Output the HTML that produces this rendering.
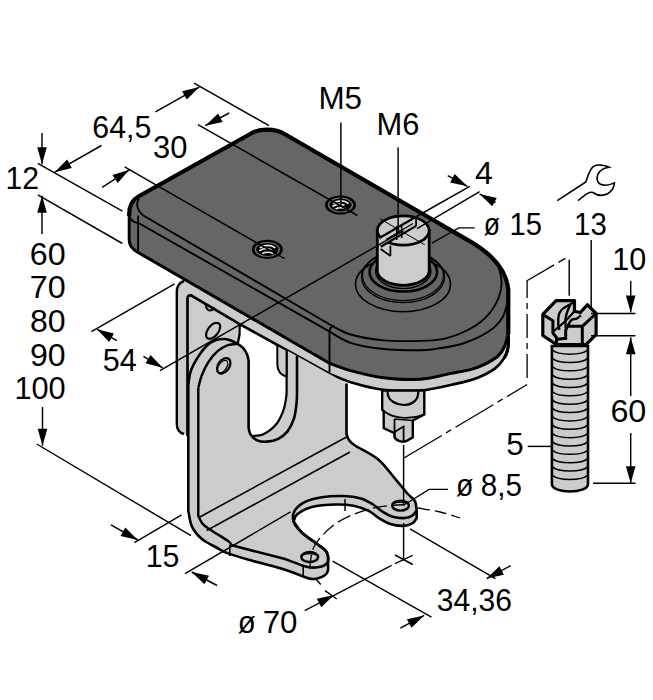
<!DOCTYPE html>
<html><head><meta charset="utf-8"><style>
html,body{margin:0;padding:0;background:#fff;}
svg{display:block;}
text{font-family:"Liberation Sans",sans-serif;fill:#000;}
</style></head><body>
<svg width="653" height="700" viewBox="0 0 653 700">
<rect width="653" height="700" fill="#fff"/>
<path d="M 187.5 298.0 L 191.0 295.3 L 239.3 323.9 L 239.3 440.0 L 187.5 440.0 Z" fill="#cccccc" />
<path d="M 176.8 424 L 176.8 292 Q 176.8 283 184 280 L 330 363 L 508.6 330 L 508.6 336 C 508.6 337.7 509.0 342.4 508.3 346.0 C 507.6 349.6 506.6 354.1 504.3 357.9 C 502.1 361.7 499.3 365.3 494.8 368.7 C 490.3 372.1 483.4 375.5 477.1 378.0 C 470.8 380.5 466.3 381.5 456.8 383.6 C 447.3 385.7 432.6 389.6 420.0 390.6 C 407.4 391.6 392.9 390.9 381.3 389.5 C 369.7 388.1 359.3 384.8 350.6 382.2 C 341.9 379.6 332.9 375.2 329.3 373.8 L 239.3 323.9 L 191 295.8 Q 187.5 295.5 187.5 298.5 L 187.5 434 L 184 434 Q 176.8 434 176.8 424 Z" fill="#cccccc" />
<path d="M 184 281 Q 176.8 283.5 176.8 292 L 176.8 424 Q 176.8 432 184 434" fill="none" stroke="#000" stroke-width="2.4" />
<path d="M 187.5 436 L 187.5 298.5 Q 187.5 295 191 295.3 L 239.3 323.9 L 329.3 373.8 C 332.9 375.2 341.9 379.6 350.6 382.2 C 359.3 384.8 369.7 388.1 381.3 389.5 C 392.9 390.9 407.4 391.6 420.0 390.6 C 432.6 389.6 447.3 385.7 456.8 383.6 C 466.3 381.5 470.8 380.5 477.1 378.0 C 483.4 375.5 490.3 372.1 494.8 368.7 C 499.3 365.3 502.1 361.7 504.3 357.9 C 506.6 354.1 507.6 349.6 508.3 346.0 C 509.0 342.4 508.6 337.7 508.6 336.0" fill="none" stroke="#000" stroke-width="2.7" />
<path d="M 239.8 324.2 C 240.3 332 239.5 338 237.5 345" fill="none" stroke="#000" stroke-width="2.2" />
<ellipse cx="213.1" cy="330.8" rx="5.2" ry="9.3" fill="#ccc" stroke="#000" stroke-width="2.2" transform="rotate(38 213.1 330.8)"/>
<path d="M 205.6 303 C 205.8 307.5 207.5 310.5 210 310.5 C 212 310.5 213.5 309.5 214 307" fill="none" stroke="#000" stroke-width="2" />
<path d="M 188.3 512 L 188.3 385 C 188.7 382.7 189.1 375.9 190.7 371.3 C 192.2 366.7 194.8 362.0 197.6 357.6 C 200.3 353.2 204.2 348.1 207.2 345.2 C 210.2 342.3 212.5 341.3 215.5 340.3 C 218.5 339.3 222.3 338.9 225.1 339.0 C 227.8 339.1 229.9 340.2 232.0 341.0 C 234.1 341.8 235.7 342.7 237.5 343.8 C 239.3 344.9 241.4 346.1 243.0 347.9 C 244.6 349.7 246.3 352.6 247.2 354.8 C 248.1 357.0 248.4 360.0 248.6 361.0 L 248.6 427.7 C 248.9 428.8 248.9 432.0 250.4 434.2 C 251.9 436.4 255.0 439.4 257.8 440.6 C 260.6 441.8 263.7 441.9 267.1 441.6 C 270.5 441.3 274.9 440.5 278.3 438.8 C 281.7 437.1 284.9 434.8 287.5 431.4 C 290.1 428.0 292.5 423.0 294.0 418.4 C 295.5 413.8 296.0 407.4 296.5 403.5 C 297.0 399.6 296.9 396.4 297.0 395.0 L 297 355.9 L 346.5 383.4 L 346.5 434 C 346.9 435.0 347.6 438.1 349.0 440.0 C 350.4 441.9 350.2 442.3 355.0 445.5 C 359.8 448.7 371.3 453.6 378.0 459.2 C 384.7 464.8 390.3 473.1 395.2 478.8 C 400.1 484.5 404.1 489.8 407.4 493.5 C 410.7 497.2 413.2 498.0 414.8 500.9 C 416.4 503.8 416.4 509.1 416.7 510.7 L 416.7 518 C 416.0 518.9 414.7 522.1 412.3 523.4 C 409.9 524.7 406.2 525.8 402.5 525.9 C 398.8 526.0 394.0 525.2 390.3 524.1 C 386.6 523.0 384.2 521.4 380.5 519.2 C 376.8 517.0 372.7 512.9 368.2 510.7 C 363.7 508.5 358.8 506.8 353.5 505.8 C 348.2 504.8 343.3 504.3 336.4 504.5 C 329.5 504.7 318.4 505.4 311.9 507.0 C 305.4 508.6 300.2 511.9 297.2 514.3 C 294.1 516.7 294.2 520.3 293.6 521.5 C 295.0 523.4 298.1 529.0 302.0 532.7 C 305.9 536.4 312.9 540.7 316.8 543.7 C 320.7 546.7 323.6 548.5 325.5 550.5 C 327.4 552.5 327.5 554.0 327.9 556.0 C 328.3 558.0 327.9 561.2 327.9 562.2 L 327.9 562.2 C 327.9 563.6 328.5 568.6 327.9 570.8 C 327.3 573.0 326.3 574.2 324.5 575.5 C 322.7 576.8 319.3 577.9 317.0 578.5 C 314.7 579.1 313.2 579.3 310.7 578.9 C 308.2 578.5 303.6 576.6 302.2 576.1 C 299.3 575.0 293.2 572.2 285.0 569.7 C 276.8 567.2 262.3 563.6 252.9 560.9 C 243.5 558.2 234.7 555.8 228.6 553.6 C 222.5 551.4 220.8 549.9 216.4 547.5 C 212.0 545.1 206.0 542.4 201.9 539.0 C 197.8 535.6 194.3 531.4 192.1 526.9 C 189.9 522.4 189.1 514.5 188.5 512.0 Z" fill="#cccccc" />
<path d="M 250.4 434.2 C 251.6 435.3 255.0 439.4 257.8 440.6 C 260.6 441.8 263.7 441.9 267.1 441.6 C 270.5 441.3 274.9 440.5 278.3 438.8 C 281.7 437.1 284.9 434.8 287.5 431.4 C 290.1 428.0 292.5 423.0 294.0 418.4 C 295.5 413.8 296.0 407.4 296.5 403.5 C 297.0 399.6 296.9 396.4 297.0 395.0 L 297 355.9 L 286.6 350.2 L 286.6 394.2 C 286.1 396.7 285.5 404.1 283.8 409.1 C 282.1 414.1 279.8 419.8 276.4 424.0 C 273.0 428.2 267.4 432.2 263.4 434.2 C 259.4 436.2 254.2 435.7 252.3 436.0 Z" fill="#cccccc" />
<path d="M 188.3 512 L 188.3 385 C 188.7 382.7 189.1 375.9 190.7 371.3 C 192.2 366.7 194.8 362.0 197.6 357.6 C 200.3 353.2 204.2 348.1 207.2 345.2 C 210.2 342.3 212.5 341.3 215.5 340.3 C 218.5 339.3 222.3 338.9 225.1 339.0 C 227.8 339.1 229.9 340.2 232.0 341.0 C 234.1 341.8 235.7 342.7 237.5 343.8 C 239.3 344.9 241.4 346.1 243.0 347.9 C 244.6 349.7 246.3 352.6 247.2 354.8 C 248.1 357.0 248.4 360.0 248.6 361.0 L 248.6 427.7 C 248.9 428.8 248.9 432.0 250.4 434.2 C 251.9 436.4 255.0 439.4 257.8 440.6 C 260.6 441.8 263.7 441.9 267.1 441.6 C 270.5 441.3 274.9 440.5 278.3 438.8 C 281.7 437.1 284.9 434.8 287.5 431.4 C 290.1 428.0 292.5 423.0 294.0 418.4 C 295.5 413.8 296.0 407.4 296.5 403.5 C 297.0 399.6 296.9 396.4 297.0 395.0 L 297 355.9" fill="none" stroke="#000" stroke-width="2.6" />
<path d="M 346.5 383.4 L 346.5 434 C 346.9 435.0 347.6 438.1 349.0 440.0 C 350.4 441.9 350.2 442.3 355.0 445.5 C 359.8 448.7 371.3 453.6 378.0 459.2 C 384.7 464.8 390.3 473.1 395.2 478.8 C 400.1 484.5 404.1 489.8 407.4 493.5 C 410.7 497.2 413.2 498.0 414.8 500.9 C 416.4 503.8 416.4 509.1 416.7 510.7 L 416.7 518 C 416.0 518.9 414.7 522.1 412.3 523.4 C 409.9 524.7 406.2 525.8 402.5 525.9 C 398.8 526.0 394.0 525.2 390.3 524.1 C 386.6 523.0 384.2 521.4 380.5 519.2 C 376.8 517.0 372.7 512.9 368.2 510.7 C 363.7 508.5 358.8 506.8 353.5 505.8 C 348.2 504.8 343.3 504.3 336.4 504.5 C 329.5 504.7 318.4 505.4 311.9 507.0 C 305.4 508.6 300.2 511.9 297.2 514.3 C 294.1 516.7 294.2 520.3 293.6 521.5 C 295.0 523.4 298.1 529.0 302.0 532.7 C 305.9 536.4 312.9 540.7 316.8 543.7 C 320.7 546.7 323.6 548.5 325.5 550.5 C 327.4 552.5 327.5 554.0 327.9 556.0 C 328.3 558.0 327.9 561.2 327.9 562.2 L 327.9 562.2 C 327.9 563.6 328.5 568.6 327.9 570.8 C 327.3 573.0 326.3 574.2 324.5 575.5 C 322.7 576.8 319.3 577.9 317.0 578.5 C 314.7 579.1 313.2 579.3 310.7 578.9 C 308.2 578.5 303.6 576.6 302.2 576.1 C 299.3 575.0 293.2 572.2 285.0 569.7 C 276.8 567.2 262.3 563.6 252.9 560.9 C 243.5 558.2 234.7 555.8 228.6 553.6 C 222.5 551.4 220.8 549.9 216.4 547.5 C 212.0 545.1 206.0 542.4 201.9 539.0 C 197.8 535.6 194.3 531.4 192.1 526.9 C 189.9 522.4 189.1 514.5 188.5 512.0" fill="none" stroke="#000" stroke-width="2.6" />
<path d="M 252.3 436.0 C 254.2 435.7 259.4 436.2 263.4 434.2 C 267.4 432.2 273.0 428.2 276.4 424.0 C 279.8 419.8 282.1 414.1 283.8 409.1 C 285.5 404.1 286.1 396.7 286.6 394.2 L 286.6 350.2" fill="none" stroke="#000" stroke-width="2.2" />
<path d="M 277.3 345.0 L 277.3 364 C 277.3 371 281 375 286.6 376.5 L 286.6 350.2 Z" fill="#cccccc" stroke="#000" stroke-width="2" />
<path d="M 198.3 387.9 L 198.3 515.9 C 199.1 517.3 200.9 522.0 203.1 524.4 C 205.3 526.8 207.3 527.7 211.6 530.5 C 215.8 533.3 225.4 539.0 228.6 541.4 C 231.8 543.8 230.6 544.5 231.0 545.1" fill="none" stroke="#000" stroke-width="2.4" />
<path d="M 198.3 387.9 C 198.9 385.8 200.0 379.9 201.7 375.5 C 203.4 371.1 205.8 365.8 208.6 361.7 C 211.3 357.6 215.0 353.4 218.2 350.7 C 221.4 347.9 224.7 346.3 227.9 345.2 C 231.1 344.1 235.9 344.0 237.5 343.8" fill="none" stroke="#000" stroke-width="2.4" />
<ellipse cx="223.7" cy="365.8" rx="5.6" ry="8.6" fill="#ccc" stroke="#000" stroke-width="2.2" transform="rotate(35 223.7 365.8)"/>
<ellipse cx="222.6" cy="366.6" rx="4" ry="7" fill="none" stroke="#000" stroke-width="1.2" transform="rotate(35 222.6 366.6)"/>
<line x1="199.4" y1="517.2" x2="346.5" y2="437.0" stroke="#000" stroke-width="1.6" />
<line x1="206.7" y1="530.5" x2="350.0" y2="452.0" stroke="#000" stroke-width="1.6" />
<line x1="229.8" y1="545.0" x2="229.8" y2="556.0" stroke="#000" stroke-width="1.6" />
<path d="M 416.7 510.7 C 416.0 511.5 414.2 514.4 412.3 515.6 C 410.4 516.8 408.3 517.8 405.0 518.0 C 401.7 518.2 396.4 517.8 392.7 516.8 C 389.0 515.8 386.2 513.9 382.9 511.9 C 379.6 509.8 376.8 506.8 373.1 504.5 C 369.4 502.2 365.8 499.8 360.9 498.4 C 356.0 497.0 350.2 496.2 343.7 496.0 C 337.2 495.8 328.2 496.2 321.7 497.2 C 315.2 498.2 309.0 499.9 304.5 502.1 C 300.0 504.4 296.5 507.5 294.7 510.7 C 292.9 513.9 292.4 517.8 293.6 521.5 C 294.8 525.2 298.1 529.0 302.0 532.7 C 305.9 536.4 312.9 540.7 316.8 543.7 C 320.7 546.7 323.6 548.5 325.5 550.5 C 327.4 552.5 327.5 554.0 327.9 556.0 C 328.3 558.0 329.0 560.5 327.9 562.2 C 326.8 564.0 324.3 565.6 321.4 566.5 C 318.5 567.4 313.9 567.7 310.7 567.5 C 307.5 567.3 306.5 566.8 302.2 565.4 C 297.9 564.0 287.9 560.1 285.0 559.0 L 231 545.1" fill="none" stroke="#000" stroke-width="2.6" />
<line x1="303.2" y1="566.0" x2="303.2" y2="576.0" stroke="#000" stroke-width="1.6" />
<ellipse cx="400.5" cy="505.6" rx="8.4" ry="5" fill="#cccccc" stroke="#000" stroke-width="2.4"/>
<ellipse cx="309.7" cy="557" rx="8.4" ry="5" fill="#cccccc" stroke="#000" stroke-width="2.4"/>
<path d="M 393.5 504 C 396 501.5 405 501.5 407.5 504" fill="none" stroke="#000" stroke-width="1.2" />
<path d="M 302.7 555.5 C 305 553 314 553 316.7 555.5" fill="none" stroke="#000" stroke-width="1.2" />
<path d="M 129.2 214 C 129.2 205 132 200 138.4 196.5 L 251 133.5 C 259 128.5 275 128 285 134.2 L 470 241.3 C 492 254 506.5 270 508.3 290 L 508.3 333.4 C 507.6 335.7 506.1 343.1 504.3 347.0 C 502.5 350.9 500.9 353.6 497.5 356.5 C 494.1 359.4 488.4 362.4 483.9 364.6 C 479.4 366.8 476.0 368.1 470.4 369.6 C 464.8 371.1 456.7 372.2 450.0 373.6 C 443.3 375.0 436.3 377.0 430.0 378.0 C 423.7 379.0 420.1 379.7 412.0 379.6 C 403.9 379.5 391.5 379.0 381.3 377.5 C 371.1 376.0 359.3 373.0 350.6 370.6 C 341.9 368.2 332.6 364.3 329.0 363.0 L 137.3 252 C 132 249 129.2 246 129.2 240 Z" fill="#666666" stroke="#000" stroke-width="3" stroke-linejoin="round"/>
<path d="M 129.2 216 L 129.2 214 C 129.2 205 132 200 138.4 196.5 L 251 133.5 C 259 128.5 275 128 285 134.2 L 470 241.3 C 492 254 506.5 270 508.3 290 L 508.3 334" fill="none" stroke="#000" stroke-width="4.2" stroke-linejoin="round"/>
<path d="M 508.4 333 L 508.4 344 C 508.2 350 506.5 355 504.3 357.9" fill="none" stroke="#000" stroke-width="3" />
<path d="M 139 198.5 C 136 203 136.5 210 143.3 215.5 L 332.3 326 C 335.4 327.4 342.4 332.1 350.6 334.5 C 358.8 336.9 369.7 339.0 381.3 340.1 C 392.9 341.2 409.3 341.2 420.0 340.9 C 430.7 340.6 437.1 340.4 445.7 338.3 C 454.3 336.2 464.4 332.0 471.5 328.0 C 478.6 324.0 484.0 319.5 488.6 314.3 C 493.2 309.1 496.8 302.4 498.9 297.0 C 501.0 291.6 501.8 287.5 501.5 282.0 C 501.2 276.5 499.8 269.2 497.0 264.0 C 494.2 258.8 489.8 254.8 485.0 251.0 C 480.2 247.2 475.5 245.8 468.0 241.5 C 460.5 237.2 444.7 228.2 440.0 225.5" fill="none" stroke="#000" stroke-width="1.9" />
<path d="M 129.8 217.5 C 132 221 135 222.9 138.4 222.9 L 329.2 331.4 C 332.8 333.3 341.9 340.0 350.6 342.9 C 359.3 345.8 369.7 347.5 381.3 348.7 C 392.9 349.9 410.7 350.3 420.0 350.3 C 429.3 350.3 430.1 349.7 437.2 348.6 C 444.3 347.5 454.3 346.4 462.9 343.5 C 471.5 340.6 482.0 335.8 488.6 331.5 C 495.2 327.2 499.2 322.6 502.3 317.7 C 505.4 312.8 506.4 305.9 507.5 302.3 C 508.6 298.7 508.8 297.1 509.0 296.0" fill="none" stroke="#000" stroke-width="1.9" />
<line x1="138.1" y1="215.5" x2="138.1" y2="251.0" stroke="#000" stroke-width="1.8" />
<path d="M 329.5 372.5 L 329.5 332 C 329.5 328.5 331 326.5 334.5 325.6" fill="none" stroke="#000" stroke-width="1.9" />
<ellipse cx="267.3" cy="249.4" rx="15.5" ry="9.6" fill="#000"/><ellipse cx="267.3" cy="249.4" rx="12.6" ry="7.4" fill="#7a7a7a"/><ellipse cx="267.3" cy="249.4" rx="11.2" ry="6.5" fill="#000"/><path d="M 259.8 247.9 C 264.3 244.4 271.3 244.4 275.3 247.9" fill="none" stroke="#e8e8e8" stroke-width="1.7" /><path d="M 259.3 250.9 C 263.3 247.9 268.3 247.9 271.3 249.9" fill="none" stroke="#e8e8e8" stroke-width="1.7" /><path d="M 262.3 253.4 C 265.3 251.9 270.3 251.9 273.3 253.4" fill="none" stroke="#e8e8e8" stroke-width="1.7" />
<ellipse cx="340.5" cy="205" rx="15.5" ry="9.6" fill="#000"/><ellipse cx="340.5" cy="205" rx="12.6" ry="7.4" fill="#7a7a7a"/><ellipse cx="340.5" cy="205" rx="11.2" ry="6.5" fill="#000"/><path d="M 333.0 203.5 C 337.5 200 344.5 200 348.5 203.5" fill="none" stroke="#e8e8e8" stroke-width="1.7" /><path d="M 332.5 206.5 C 336.5 203.5 341.5 203.5 344.5 205.5" fill="none" stroke="#e8e8e8" stroke-width="1.7" /><path d="M 335.5 209 C 338.5 207.5 343.5 207.5 346.5 209" fill="none" stroke="#e8e8e8" stroke-width="1.7" />
<ellipse cx="403" cy="284.2" rx="47.5" ry="27.5" fill="none" stroke="#000" stroke-width="1.5"/>
<ellipse cx="403" cy="277" rx="41.5" ry="25.5" fill="none" stroke="#000" stroke-width="1.4"/>
<ellipse cx="403" cy="275.5" rx="40.5" ry="25" fill="none" stroke="#000" stroke-width="1.2"/>
<ellipse cx="403.3" cy="272" rx="33.8" ry="19.5" fill="none" stroke="#000" stroke-width="2.6"/>
<ellipse cx="403.3" cy="271" rx="27.8" ry="17.5" fill="none" stroke="#000" stroke-width="1.2"/>
<path d="M 377.3 230.5 L 377.3 271.5 A 26 14.7 0 0 0 429.2 271.5 L 429.2 230.5 Z" fill="#cccccc" stroke="#000" stroke-width="2.8" />
<ellipse cx="403.25" cy="230.5" rx="25.95" ry="14.7" fill="#cccccc" stroke="#000" stroke-width="2.8"/>
<path d="M 380.7 237.2 L 416.1 216.8 L 416.1 225.9 L 380.7 246.8 Z" fill="#cccccc" />
<line x1="380.7" y1="237.2" x2="416.1" y2="216.8" stroke="#000" stroke-width="2.2" />
<line x1="380.7" y1="246.8" x2="416.1" y2="225.9" stroke="#000" stroke-width="2.2" />
<line x1="386.0" y1="239.5" x2="413.0" y2="223.5" stroke="#000" stroke-width="1.2" />
<line x1="416.1" y1="216.8" x2="416.1" y2="226.0" stroke="#000" stroke-width="1.8" />
<line x1="390.4" y1="245.7" x2="390.4" y2="255.9" stroke="#000" stroke-width="1.8" />
<line x1="380.7" y1="249.0" x2="390.4" y2="255.9" stroke="#000" stroke-width="1.8" />
<line x1="396.7" y1="226.0" x2="396.7" y2="240.0" stroke="#000" stroke-width="1.5" />
<line x1="401.7" y1="224.0" x2="401.7" y2="238.0" stroke="#000" stroke-width="1.5" />
<line x1="380.2" y1="218.9" x2="424.7" y2="244.7" stroke="#000" stroke-width="1.0" />
<path d="M 382.2 390.5 L 382.2 409.8 L 383.7 411 L 383.7 428.2 L 392.9 432.5 L 394.5 432.5 L 394.5 437 C 396 441 403 442.5 406 441.2 L 412.8 437.4 L 412.8 420.5 L 424.3 414.4 L 424.3 390.5 Z" fill="#cccccc" stroke="#000" stroke-width="2.4" stroke-linejoin="round"/>
<path d="M 387.6 391 L 387.6 393 C 388 401 397 405 403.8 405 C 411 405 418 401 418.2 393 L 418.2 391" fill="none" stroke="#000" stroke-width="2.2" />
<path d="M 383.7 411 C 395 420 412 419 424.3 414.4" fill="none" stroke="#000" stroke-width="1.6" />
<line x1="394.5" y1="419.0" x2="394.5" y2="437.0" stroke="#000" stroke-width="1.8" />
<line x1="394.5" y1="432.0" x2="404.4" y2="426.0" stroke="#000" stroke-width="1.8" />
<line x1="403.6" y1="426.0" x2="403.6" y2="441.0" stroke="#000" stroke-width="1.8" />
<line x1="394.5" y1="419.0" x2="412.8" y2="420.5" stroke="#000" stroke-width="1.6" />
<line x1="403.6" y1="445.0" x2="403.6" y2="505.8" stroke="#000" stroke-width="1.45" />
<line x1="403.6" y1="523.0" x2="403.6" y2="559.7" stroke="#000" stroke-width="1.45" />
<path d="M 404 458 L 527.1 384.5" fill="none" stroke="#000" stroke-width="1.3" stroke-dasharray="44 5 6 5"/>
<path d="M 527.1 378 L 527.1 281" fill="none" stroke="#000" stroke-width="1.3" stroke-dasharray="24 5 6 5"/>
<path d="M 526.5 281 L 566 258" fill="none" stroke="#000" stroke-width="1.3" stroke-dasharray="32 5 8 5"/>
<line x1="569.2" y1="259.7" x2="569.2" y2="295.8" stroke="#000" stroke-width="1.45" />
<path d="M 551.9 346 L 551.9 484 C 552 494 588 494 588 484 L 588 346 Z" fill="#cccccc" stroke="#000" stroke-width="2.6" />
<path d="M 552.5 350.0 C 558 355.5 582 355.5 587.5 350.0" fill="none" stroke="#000" stroke-width="1.5" />
<path d="M 552.5 358.4 C 558 363.9 582 363.9 587.5 358.4" fill="none" stroke="#000" stroke-width="1.5" />
<path d="M 552.5 366.7 C 558 372.2 582 372.2 587.5 366.7" fill="none" stroke="#000" stroke-width="1.5" />
<path d="M 552.5 375.1 C 558 380.6 582 380.6 587.5 375.1" fill="none" stroke="#000" stroke-width="1.5" />
<path d="M 552.5 383.4 C 558 388.9 582 388.9 587.5 383.4" fill="none" stroke="#000" stroke-width="1.5" />
<path d="M 552.5 391.8 C 558 397.2 582 397.2 587.5 391.8" fill="none" stroke="#000" stroke-width="1.5" />
<path d="M 552.5 400.1 C 558 405.6 582 405.6 587.5 400.1" fill="none" stroke="#000" stroke-width="1.5" />
<path d="M 552.5 408.4 C 558 413.9 582 413.9 587.5 408.4" fill="none" stroke="#000" stroke-width="1.5" />
<path d="M 552.5 416.8 C 558 422.3 582 422.3 587.5 416.8" fill="none" stroke="#000" stroke-width="1.5" />
<path d="M 552.5 425.1 C 558 430.6 582 430.6 587.5 425.1" fill="none" stroke="#000" stroke-width="1.5" />
<path d="M 552.5 433.5 C 558 439.0 582 439.0 587.5 433.5" fill="none" stroke="#000" stroke-width="1.5" />
<path d="M 552.5 441.9 C 558 447.4 582 447.4 587.5 441.9" fill="none" stroke="#000" stroke-width="1.5" />
<path d="M 552.5 450.2 C 558 455.7 582 455.7 587.5 450.2" fill="none" stroke="#000" stroke-width="1.5" />
<path d="M 552.5 458.6 C 558 464.1 582 464.1 587.5 458.6" fill="none" stroke="#000" stroke-width="1.5" />
<path d="M 552.5 466.9 C 558 472.4 582 472.4 587.5 466.9" fill="none" stroke="#000" stroke-width="1.5" />
<path d="M 552.5 475.2 C 558 480.8 582 480.8 587.5 475.2" fill="none" stroke="#000" stroke-width="1.5" />
<path d="M 542.8 314.4 L 556.1 300.6 L 574.5 300.6 L 574.5 311.2 L 580.4 312.5 L 587.3 304.7 L 596.1 313.5 L 596.1 334.6 L 586 344.7 L 556.5 344.7 L 542.8 335.5 Z" fill="#cccccc" stroke="#000" stroke-width="3.2" stroke-linejoin="round"/>
<path d="M 542.8 314.4 L 552.9 320.8 L 552.9 333 L 556.5 337.5 L 556.5 344.7" fill="none" stroke="#000" stroke-width="3" />
<path d="M 567.6 326.3 L 582.3 326.3 L 582.3 344.7 M 582.3 326.3 L 596.1 313.5" fill="none" stroke="#000" stroke-width="3" />
<path d="M 567.6 326.3 L 565.7 330 L 565.7 338.3 L 557.5 339.2" fill="none" stroke="#000" stroke-width="3" />
<path d="M 574.5 302.0 C 573.4 302.6 570.1 304.2 568.0 305.5 C 565.9 306.8 563.5 307.9 562.0 309.5 C 560.5 311.1 559.4 312.6 558.8 315.0 C 558.2 317.4 558.2 321.5 558.3 324.0 C 558.4 326.5 559.3 329.0 559.5 330.0" fill="none" stroke="#000" stroke-width="2.4" />
<path d="M 570.5 304.5 C 570.0 305.6 568.3 308.6 567.5 311.0 C 566.7 313.4 565.8 316.2 565.5 319.0 C 565.2 321.8 565.7 326.5 565.7 328.0" fill="none" stroke="#000" stroke-width="2.4" />
<path d="M 580.9 315.3 C 580.2 315.8 578.6 317.7 577.0 318.5 C 575.4 319.3 573.1 318.7 571.5 320.0 C 569.9 321.3 568.2 325.2 567.6 326.3" fill="none" stroke="#000" stroke-width="2.4" />
<path d="M 552.9 332.0 C 553.8 331.2 555.8 329.4 558.0 327.5 C 560.2 325.6 563.2 323.2 566.0 320.5 C 568.8 317.8 573.1 312.8 574.5 311.2" fill="none" stroke="#000" stroke-width="2.2" />
<path d="M 557.3 200.7 L 585.8 182 C 588 176 589 170 593.6 166.4 C 597 164.5 604 164.5 609.2 167.3 C 604 168 600 170.5 598 174 C 596.5 178 597 182 600 184 C 604 186 610 185 614.4 182.9 C 614 187 612.7 190.7 608 193.5 C 603 196 597 195.5 593 192.5 C 590 191.5 587 193 578 200.7" fill="none" stroke="#000" stroke-width="1.6" />
<line x1="194.1" y1="83.1" x2="269.0" y2="125.7" stroke="#000" stroke-width="1.45" />
<line x1="37.8" y1="163.4" x2="122.4" y2="211.2" stroke="#000" stroke-width="1.45" />
<line x1="101.5" y1="145.5" x2="54.7" y2="172.2" stroke="#000" stroke-width="1.45" /><path d="M 54.7 172.2 L 67.1 159.6 L 71.8 167.9 Z" fill="#000"/>
<line x1="155.5" y1="111.8" x2="199.3" y2="87.1" stroke="#000" stroke-width="1.45" /><path d="M 199.3 87.1 L 186.9 99.6 L 182.1 91.3 Z" fill="#000"/>
<line x1="197.9" y1="124.6" x2="357.5" y2="215.5" stroke="#000" stroke-width="1.45" />
<line x1="124.6" y1="166.9" x2="284.6" y2="258.7" stroke="#000" stroke-width="1.45" />
<line x1="229.2" y1="113.0" x2="205.3" y2="125.7" stroke="#000" stroke-width="1.45" /><path d="M 205.3 125.7 L 218.1 113.5 L 222.6 122.0 Z" fill="#000"/>
<line x1="102.1" y1="187.3" x2="129.4" y2="169.8" stroke="#000" stroke-width="1.45" /><path d="M 129.4 169.8 L 117.7 183.0 L 112.5 174.9 Z" fill="#000"/>
<line x1="42.0" y1="133.0" x2="42.0" y2="164.2" stroke="#000" stroke-width="1.45" /><path d="M 42.0 164.2 L 37.2 147.2 L 46.8 147.2 Z" fill="#000"/>
<line x1="37.8" y1="194.9" x2="122.4" y2="243.5" stroke="#000" stroke-width="1.45" />
<line x1="42.0" y1="234.0" x2="42.0" y2="195.7" stroke="#000" stroke-width="1.45" /><path d="M 42.0 195.7 L 46.8 212.7 L 37.2 212.7 Z" fill="#000"/>
<line x1="42.5" y1="407.0" x2="42.5" y2="445.7" stroke="#000" stroke-width="1.45" /><path d="M 42.5 445.7 L 37.7 428.7 L 47.3 428.7 Z" fill="#000"/>
<line x1="36.7" y1="444.0" x2="191.0" y2="535.7" stroke="#000" stroke-width="1.45" />
<line x1="91.4" y1="331.6" x2="174.6" y2="283.8" stroke="#000" stroke-width="1.45" />
<line x1="116.8" y1="340.7" x2="96.9" y2="329.2" stroke="#000" stroke-width="1.45" /><path d="M 96.9 329.2 L 114.0 333.6 L 109.2 341.9 Z" fill="#000"/>
<line x1="159.9" y1="370.7" x2="403.5" y2="230.6" stroke="#000" stroke-width="1.45" />
<line x1="143.4" y1="356.4" x2="162.7" y2="367.8" stroke="#000" stroke-width="1.45" /><path d="M 162.7 367.8 L 145.6 363.3 L 150.5 355.0 Z" fill="#000"/>
<line x1="340.9" y1="122.5" x2="340.9" y2="205.0" stroke="#000" stroke-width="1.45" />
<line x1="398.1" y1="147.3" x2="398.1" y2="234.0" stroke="#000" stroke-width="1.45" />
<line x1="416.5" y1="216.5" x2="469.8" y2="186.3" stroke="#000" stroke-width="1.45" />
<line x1="417.0" y1="228.5" x2="479.6" y2="191.7" stroke="#000" stroke-width="1.45" />
<line x1="447.8" y1="175.7" x2="467.4" y2="186.3" stroke="#000" stroke-width="1.45" /><path d="M 467.4 186.3 L 450.2 182.4 L 454.7 174.0 Z" fill="#000"/>
<line x1="495.6" y1="202.7" x2="479.6" y2="194.0" stroke="#000" stroke-width="1.45" /><path d="M 479.6 194.0 L 496.8 197.9 L 492.2 206.3 Z" fill="#000"/>
<path d="M 474.7 227.9 L 458.8 227.9 L 431.9 243.1" fill="none" stroke="#000" stroke-width="1.3" />
<line x1="591.2" y1="240.0" x2="591.2" y2="307.0" stroke="#000" stroke-width="1.45" />
<line x1="591.0" y1="313.5" x2="635.5" y2="313.5" stroke="#000" stroke-width="1.45" />
<line x1="591.0" y1="335.8" x2="635.5" y2="335.8" stroke="#000" stroke-width="1.45" />
<line x1="630.7" y1="280.8" x2="630.7" y2="312.4" stroke="#000" stroke-width="1.45" /><path d="M 630.7 312.4 L 625.9 295.4 L 635.5 295.4 Z" fill="#000"/>
<line x1="630.7" y1="396.0" x2="630.7" y2="337.3" stroke="#000" stroke-width="1.45" /><path d="M 630.7 337.3 L 635.5 354.3 L 625.9 354.3 Z" fill="#000"/>
<line x1="630.7" y1="433.0" x2="630.7" y2="483.2" stroke="#000" stroke-width="1.45" /><path d="M 630.7 483.2 L 625.9 466.2 L 635.5 466.2 Z" fill="#000"/>
<line x1="593.0" y1="483.2" x2="635.5" y2="483.2" stroke="#000" stroke-width="1.45" />
<line x1="527.8" y1="446.4" x2="552.0" y2="446.4" stroke="#000" stroke-width="1.45" />
<path d="M 448 489.4 L 429 489.4 L 404 505" fill="none" stroke="#000" stroke-width="1.3" />
<path d="M 309.7 568.6 C 310.2 565.4 310.9 554.6 312.9 549.3 C 314.8 543.9 317.8 540.6 321.4 536.5 C 325.0 532.4 329.6 528.1 334.3 524.7 C 339.0 521.3 343.2 518.8 349.3 516.1 C 355.4 513.4 363.7 510.4 370.8 508.6 C 377.9 506.8 386.5 506.0 392.2 505.4 C 397.9 504.8 402.9 504.8 405.0 504.7" fill="none" stroke="#000" stroke-width="1.3" stroke-dasharray="14 5"/>
<line x1="345.0" y1="499.0" x2="345.0" y2="511.0" stroke="#000" stroke-width="1.45" />
<line x1="315.2" y1="578.2" x2="320.8" y2="584.5" stroke="#000" stroke-width="1.45" />
<path d="M 418.0 508.0 C 421.7 508.7 433.0 510.3 440.0 512.0 C 447.0 513.7 456.7 517.0 460.0 518.0" fill="none" stroke="#000" stroke-width="1.3" stroke-dasharray="12 5"/>
<line x1="410.0" y1="528.8" x2="495.4" y2="578.7" stroke="#000" stroke-width="1.45" />
<line x1="332.6" y1="561.2" x2="431.5" y2="617.2" stroke="#000" stroke-width="1.45" />
<line x1="510.6" y1="565.7" x2="486.7" y2="578.6" stroke="#000" stroke-width="1.45" /><path d="M 486.7 578.6 L 499.4 566.3 L 503.9 574.7 Z" fill="#000"/>
<line x1="400.3" y1="628.2" x2="424.2" y2="615.4" stroke="#000" stroke-width="1.45" /><path d="M 424.2 615.4 L 411.5 627.7 L 406.9 619.2 Z" fill="#000"/>
<path d="M 304.7 610.6 L 391.6 565.4 M 395 563.7 L 412.7 555.3" fill="none" stroke="#000" stroke-width="1.3" />
<path d="M 334.1 595.1 L 321.3 607.3 L 316.8 598.8 Z" fill="#000"/>
<line x1="325.0" y1="590.6" x2="336.8" y2="599.0" stroke="#000" stroke-width="1.45" />
<line x1="395.0" y1="555.0" x2="412.7" y2="564.5" stroke="#000" stroke-width="1.45" />
<line x1="134.4" y1="542.7" x2="181.6" y2="514.8" stroke="#000" stroke-width="1.45" />
<line x1="110.9" y1="524.9" x2="137.8" y2="540.0" stroke="#000" stroke-width="1.45" /><path d="M 137.8 540.0 L 120.6 535.9 L 125.3 527.5 Z" fill="#000"/>
<line x1="185.0" y1="573.7" x2="290.5" y2="511.8" stroke="#000" stroke-width="1.45" />
<line x1="217.0" y1="585.5" x2="191.7" y2="572.0" stroke="#000" stroke-width="1.45" /><path d="M 191.7 572.0 L 209.0 575.8 L 204.4 584.2 Z" fill="#000"/>
<text transform="translate(92.29 138.20) scale(0.9710 1)" font-size="31.2">64,5</text>
<text transform="translate(152.97 158.00) scale(0.9895 1)" font-size="31.2">30</text>
<text transform="translate(5.44 188.90) scale(0.9664 1)" font-size="31.2">12</text>
<text transform="translate(29.79 264.70) scale(1.0338 1)" font-size="31.2">60</text>
<text transform="translate(29.79 298.20) scale(1.0338 1)" font-size="31.2">70</text>
<text transform="translate(29.96 331.60) scale(1.0288 1)" font-size="31.2">80</text>
<text transform="translate(29.96 365.80) scale(1.0288 1)" font-size="31.2">90</text>
<text transform="translate(14.40 399.30) scale(0.9843 1)" font-size="31.2">100</text>
<text transform="translate(102.68 371.40) scale(0.9800 1)" font-size="31.2">54</text>
<text transform="translate(318.39 109.30) scale(1.0070 1)" font-size="31.2">M5</text>
<text transform="translate(376.53 134.50) scale(0.9907 1)" font-size="31.2">M6</text>
<text transform="translate(475.09 183.90) scale(1.0321 1)" font-size="31.2">4</text>
<text transform="translate(483.83 234.70) scale(0.8528 1)" font-size="31.2">ø</text>
<text transform="translate(509.51 234.70) scale(0.9374 1)" font-size="31.2">15</text>
<text transform="translate(574.10 234.80) scale(0.9421 1)" font-size="31.2">13</text>
<text transform="translate(612.31 269.60) scale(0.9793 1)" font-size="31.2">10</text>
<text transform="translate(610.38 422.00) scale(1.0370 1)" font-size="31.2">60</text>
<text transform="translate(506.15 455.40) scale(1.0054 1)" font-size="31.2">5</text>
<text transform="translate(455.99 496.30) scale(0.9158 1)" font-size="31.2">ø</text>
<text transform="translate(480.77 496.30) scale(0.9505 1)" font-size="31.2">8,5</text>
<text transform="translate(145.72 567.00) scale(0.9728 1)" font-size="31.2">15</text>
<text transform="translate(237.86 632.50) scale(0.9444 1)" font-size="31.2">ø</text>
<text transform="translate(262.74 632.50) scale(1.0024 1)" font-size="31.2">70</text>
<text transform="translate(436.80 611.00) scale(0.9635 1)" font-size="31.2">34,36</text>
</svg>
</body></html>
